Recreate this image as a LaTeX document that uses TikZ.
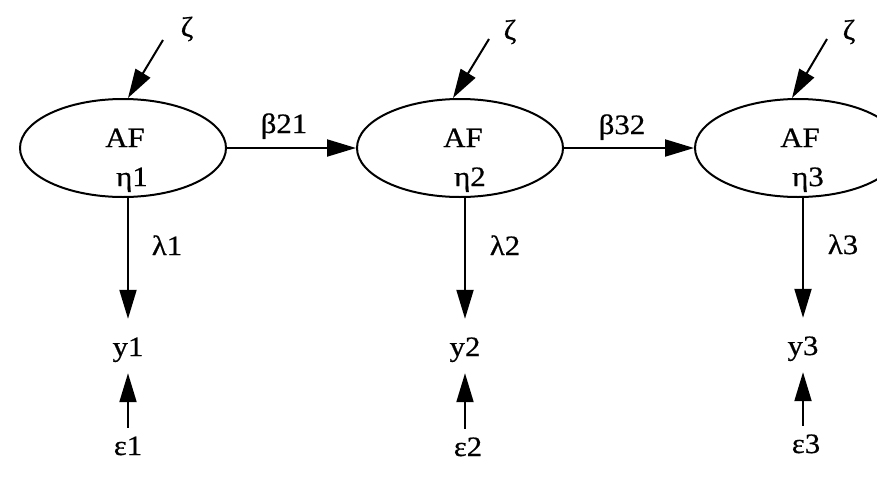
\documentclass[tikz,border=0pt]{standalone}
\usepackage{fontspec}
\setmainfont{Liberation Serif}[FakeStretch=1.1,FakeBold=0.6]
\usetikzlibrary{shapes.geometric,arrows.meta}
\begin{document}
\begin{tikzpicture}[x=1pt,y=-1pt,
 latent/.style={ellipse,draw,line width=2pt,minimum width=206pt,minimum height=98pt,inner sep=0pt},
 lbl/.style={font=\fontsize{28}{32}\selectfont,inner sep=0pt,anchor=base},
 obs/.style={lbl,text height=37pt,text depth=17pt},
 err/.style={lbl,text height=27pt},
 arr/.style={line width=2pt,-{Triangle[length=29pt,width=17pt]}}]
\useasboundingbox (0,0) rectangle (877,479);
\clip (0,0) rectangle (877,479);
% latent variables
\node[latent] (e1) at (123,148) {};
\node[latent] (e2) at (460,148) {};
\node[latent] (e3) at (798,148) {};
\node[lbl] (af1) at (125,147) {AF};
\node[lbl] (af2) at (463,147) {AF};
\node[lbl] (af3) at (800,147) {AF};
\node[lbl] (eta1) at (132,186) {η1};
\node[lbl] (eta2) at (470,186) {η2};
\node[lbl] (eta3) at (808,186) {η3};
% disturbances
\node[lbl,anchor=center] (z1) at (187,29) {ζ};
\node[lbl,anchor=center] (z2) at (510,32) {ζ};
\node[lbl,anchor=center] (z3) at (849,32) {ζ};
\coordinate (z1s) at (163,40);
\coordinate (z2s) at (489,39);
\coordinate (z3s) at (827,39);
\draw[arr] (z1s) -- ([xshift=5pt]e1.north);
\draw[arr] (z2s) -- ([xshift=-7pt]e2.north);
\draw[arr] (z3s) -- ([xshift=-6pt]e3.north);
% structural paths
\node[lbl] (b21) at (284,133) {β21};
\node[lbl] (b32) at (622,134) {β32};
\draw[arr] (e1.east) -- (e2.west);
\draw[arr] (e2.east) -- (e3.west);
% loadings
\node[lbl] (l1) at (167,255) {λ1};
\node[lbl] (l2) at (505,255) {λ2};
\node[lbl] (l3) at (843,254) {λ3};
\node[obs] (y1) at (128,356) {y1};
\node[obs] (y2) at (465,356) {y2};
\node[obs] (y3) at (803,355) {y3};
\draw[arr] (y1.north |- e1.south) -- (y1.north);
\draw[arr] (y2.north |- e2.south) -- (y2.north);
\draw[arr] (y3.north |- e3.south) -- (y3.north);
% errors
\node[err] (ep1) at (128,455) {ε1};
\node[err] (ep2) at (468,456) {ε2};
\node[err] (ep3) at (806,453) {ε3};
\draw[arr] (y1.south |- ep1.north) -- (y1.south);
\draw[arr] (y2.south |- ep2.north) -- (y2.south);
\draw[arr] (y3.south |- ep3.north) -- (y3.south);
\end{tikzpicture}
\end{document}
